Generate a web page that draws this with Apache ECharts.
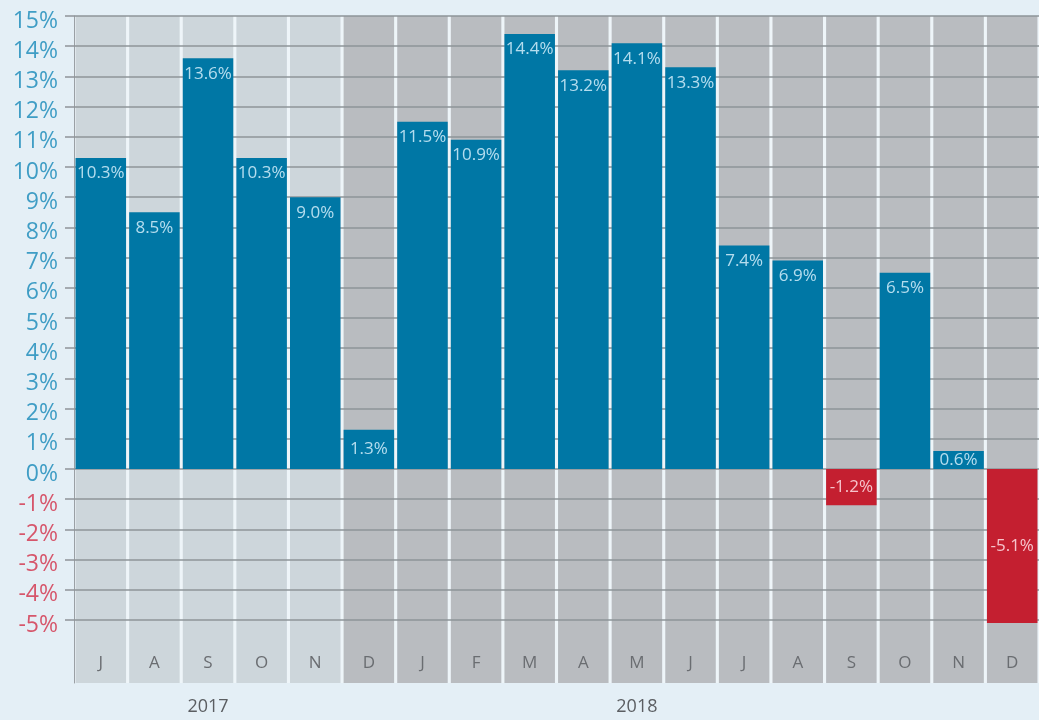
<!DOCTYPE html>
<html>
<head>
<meta charset="utf-8">
<script src="https://cdn.jsdelivr.net/npm/echarts@6/dist/echarts.min.js"></script>
<style>
  html, body { margin: 0; padding: 0; background: #e4eff6; }
  #chart { width: 1039px; height: 720px; }
</style>
</head>
<body>
<div id="chart"></div>
<script>
// ---- data ----
const months = ['J', 'A', 'S', 'O', 'N', 'D', 'J', 'F', 'M', 'A', 'M', 'J', 'J', 'A', 'S', 'O', 'N', 'D'];
const yearLabels = ['', '', '2017', '', '', '', '', '', '', '', '2018', '', '', '', '', '', '', ''];
const growth = [10.3, 8.5, 13.6, 10.3, 9.0, 1.3, 11.5, 10.9, 14.4, 13.2, 14.1, 13.3, 7.4, 6.9, -1.2, 6.5, 0.6, -5.1];
const yMin = -5, yMax = 15;

// ---- styling ----
const lightCols = 5;
const BLUE = '#0077a5', RED = '#c41f30';
const GRIDLINE = '#8e9499';
const FONT = '"Open Sans", "Noto Sans", sans-serif';

const chart = echarts.init(document.getElementById('chart'), null, { renderer: 'canvas' });

const option = {
  backgroundColor: '#e4eff6',
  animation: false,
  grid: [
    { left: 74, width: 966, top: 16, bottom: 37, show: true, backgroundColor: '#eef5f9', borderWidth: 0 },
    { left: 74, width: 966, top: 16, height: 604 }
  ],
  xAxis: [
    {
      gridIndex: 0, type: 'category', data: months, position: 'bottom', z: 6,
      axisLine: { show: false }, axisTick: { show: false },
      axisLabel: { inside: true, interval: 0, margin: 11, color: '#6a6d71', fontSize: 17, fontFamily: FONT }
    },
    {
      gridIndex: 0, type: 'category', data: months, position: 'bottom',
      axisLine: { show: false }, axisTick: { show: false },
      axisLabel: { interval: 0, margin: 15, color: '#5b5e62', fontSize: 18, fontFamily: FONT,
        formatter: (v, i) => yearLabels[i] }
    },
    { gridIndex: 1, type: 'category', data: months, show: false }
  ],
  yAxis: [
    {
      gridIndex: 0, type: 'value', min: 0, max: 1, z: 1,
      axisLine: { show: true, lineStyle: { color: '#9aa0a5', width: 1 } },
      axisTick: { show: false }, axisLabel: { show: false }, splitLine: { show: false }
    },
    {
      gridIndex: 1, type: 'value', min: yMin, max: yMax, interval: 1, z: 2,
      axisLine: { show: false },
      axisTick: { show: true, length: 9, lineStyle: { color: GRIDLINE, width: 1.5 } },
      splitLine: { show: true, lineStyle: { color: GRIDLINE, width: 1.5 } },
      axisLabel: {
        margin: 16, fontSize: 23, fontFamily: FONT,
        formatter: v => (v < 0 ? '{neg|' : '{pos|') + v + '%}',
        rich: {
          pos: { color: '#3f9dc5', fontSize: 23, fontFamily: FONT, padding: [10, 0, 0, 0] },
          neg: { color: '#d6566b', fontSize: 23, fontFamily: FONT, padding: [10, 0, 0, 0] }
        }
      }
    }
  ],
  series: [
    {
      type: 'bar', xAxisIndex: 0, yAxisIndex: 0, z: 1, silent: true,
      barWidth: 50.5,
      data: months.map((m, i) => ({
        value: 1,
        itemStyle: { color: i < lightCols ? '#cdd6db' : '#b9bcc0' }
      }))
    },
    {
      type: 'bar', xAxisIndex: 2, yAxisIndex: 1, z: 3, clip: false,
      barWidth: 50.5,
      data: growth.map(v => ({
        value: v,
        itemStyle: { color: v < 0 ? RED : BLUE },
        label: {
          position: Math.abs(v) < 1.5 || v < 0 ? 'inside' : 'insideTop',
          color: v < 0 ? 'rgba(255,225,230,0.85)' : 'rgba(200,232,246,0.9)'
        }
      })),
      label: {
        show: true, distance: 7, fontSize: 17, fontFamily: FONT,
        formatter: p => p.value.toFixed(1) + '%'
      }
    }
  ]
};
chart.setOption(option);
</script>
</body>
</html>
